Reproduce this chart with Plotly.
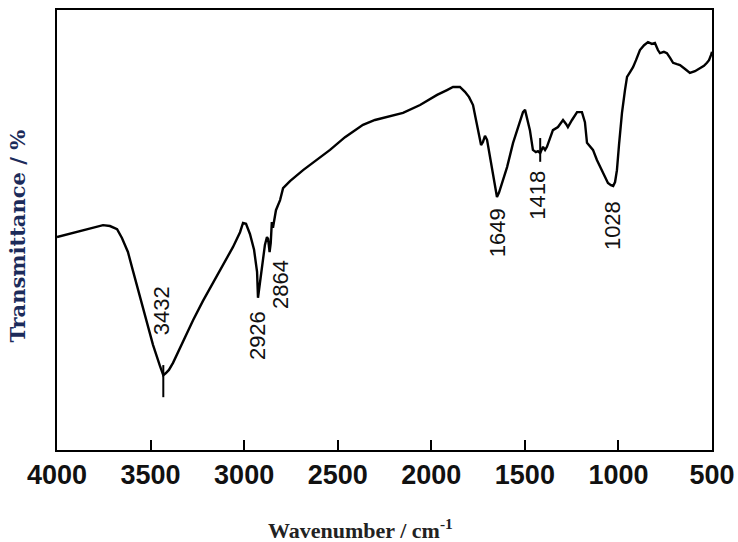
import plotly.graph_objects as go

# FTIR spectrum (wavenumber in cm-1, transmittance in arbitrary %)
wavenumber = [4000, 3877, 3754, 3717, 3679, 3653, 3621, 3594, 3556, 3519, 3487, 3450,
              3432, 3418, 3402, 3380, 3327, 3273, 3220, 3166, 3113, 3060, 3022, 3006,
              2990, 2969, 2947, 2931, 2926, 2921, 2905, 2889, 2878, 2872, 2864, 2858,
              2852, 2846, 2830, 2808, 2792, 2755, 2685, 2621, 2541, 2461, 2365, 2301,
              2237, 2151, 2060, 1969, 1916, 1884, 1847, 1820, 1798, 1777, 1761, 1750,
              1734, 1724, 1713, 1702, 1686, 1665, 1649, 1638, 1617, 1595, 1563, 1531,
              1510, 1499, 1489, 1473, 1457, 1441, 1430, 1418, 1403, 1392, 1382, 1366,
              1350, 1323, 1296, 1280, 1270, 1248, 1221, 1195, 1179, 1168, 1152, 1136,
              1115, 1098, 1077, 1056, 1040, 1028, 1018, 1008, 997, 981, 965, 954,
              938, 922, 906, 885, 863, 842, 821, 805, 789, 778, 757, 741,
              724, 708, 687, 671, 644, 618, 591, 564, 543, 527, 516, 505, 500]
transmittance = [48.4, 49.8, 51.1, 50.9, 50.2, 48.2, 45.0, 40.7, 34.5, 28.9, 23.9, 19.1,
                 17.0, 17.5, 18.2, 19.8, 24.8, 29.5, 33.9, 38.0, 42.3, 46.1, 49.5, 51.6,
                 51.4, 49.1, 45.5, 40.5, 34.6, 36.4, 40.9, 46.6, 48.4, 48.0, 45.0, 47.0,
                 51.8, 50.5, 54.5, 56.8, 59.5, 61.1, 63.6, 65.7, 68.2, 71.1, 73.9, 75.0,
                 75.7, 76.6, 78.4, 80.7, 81.8, 82.5, 82.5, 81.4, 80.2, 78.4, 75.0, 72.3,
                 69.3, 70.0, 71.4, 70.5, 66.6, 61.8, 57.5, 58.5, 61.1, 64.3, 69.8, 73.9,
                 76.8, 77.3, 75.5, 72.7, 68.2, 67.7, 67.9, 67.5, 68.9, 68.2, 68.9, 70.9,
                 72.7, 73.4, 75.0, 74.1, 73.4, 75.0, 76.8, 76.8, 74.5, 69.8, 68.9, 68.2,
                 65.9, 64.3, 62.5, 60.7, 60.2, 60.0, 60.9, 63.6, 69.3, 76.6, 81.8, 84.8,
                 85.9, 87.0, 88.6, 90.9, 92.0, 92.7, 92.3, 92.5, 90.9, 90.2, 90.5, 90.2,
                 89.1, 88.0, 87.7, 87.5, 86.6, 85.7, 86.1, 86.8, 87.3, 88.0, 88.6, 89.8, 90.5]

# Peak annotations
peak_labels = ["3432", "2926", "2864", "1649", "1418", "1028"]
peak_label_x = [3437, 2931, 2808, 1649, 1430, 1034]
peak_label_y = [31.6, 25.9, 37.5, 49.5, 58.0, 50.9]

# Short marker lines at peaks
tick_wn = [3432, 1418]
tick_top = [19.3, 70.9]
tick_bottom = [12.0, 65.5]

x_ticks = [4000, 3500, 3000, 2500, 2000, 1500, 1000, 500]

fig = go.Figure()
fig.add_trace(go.Scatter(x=wavenumber, y=transmittance, mode="lines",
                         line=dict(color="black", width=2.4), showlegend=False,
                         hoverinfo="skip"))

mx, my = [], []
for w, t, b in zip(tick_wn, tick_top, tick_bottom):
    mx += [w, w, None]
    my += [t, b, None]
fig.add_trace(go.Scatter(x=mx, y=my, mode="lines",
                         line=dict(color="black", width=2), showlegend=False,
                         hoverinfo="skip"))

for lab, lx, ly in zip(peak_labels, peak_label_x, peak_label_y):
    fig.add_annotation(x=lx, y=ly, text=lab, textangle=-90, showarrow=False,
                       xanchor="center", yanchor="middle",
                       font=dict(family="Arial, Liberation Sans", size=22, color="#111111"))

fig.add_annotation(xref="paper", yref="paper", x=0.463, y=0, yshift=-79,
                   text="<b>Wavenumber / cm<sup>-1</sup></b>", showarrow=False,
                   xanchor="center", yanchor="middle",
                   font=dict(family="Liberation Serif", size=22, color="#222222"))
fig.add_annotation(xref="paper", yref="paper", x=0, y=0.485, xshift=-39,
                   text="<b>Transmittance / %</b>", textangle=-90, showarrow=False,
                   xanchor="center", yanchor="middle",
                   font=dict(family="DejaVu Serif", size=21, color="#1c2b5a"))

fig.update_xaxes(range=[4000, 500], tickmode="array", tickvals=x_ticks,
                 ticktext=[str(v) for v in x_ticks], automargin=False,
                 ticks="inside", ticklen=10, tickwidth=2, tickcolor="black",
                 showline=True, linecolor="black", linewidth=2, mirror=True,
                 showgrid=False, zeroline=False,
                 tickfont=dict(family="Arial, Liberation Sans",
                               size=27, color="#111111", weight="bold"))
fig.update_yaxes(range=[0, 100], showticklabels=False, ticks="", automargin=False,
                 showline=True, linecolor="black", linewidth=2, mirror=True,
                 showgrid=False, zeroline=False)

fig.update_layout(width=738, height=542, margin=dict(l=57, r=26, t=10, b=92),
                  plot_bgcolor="white", paper_bgcolor="white")

fig.write_html("out.html")
